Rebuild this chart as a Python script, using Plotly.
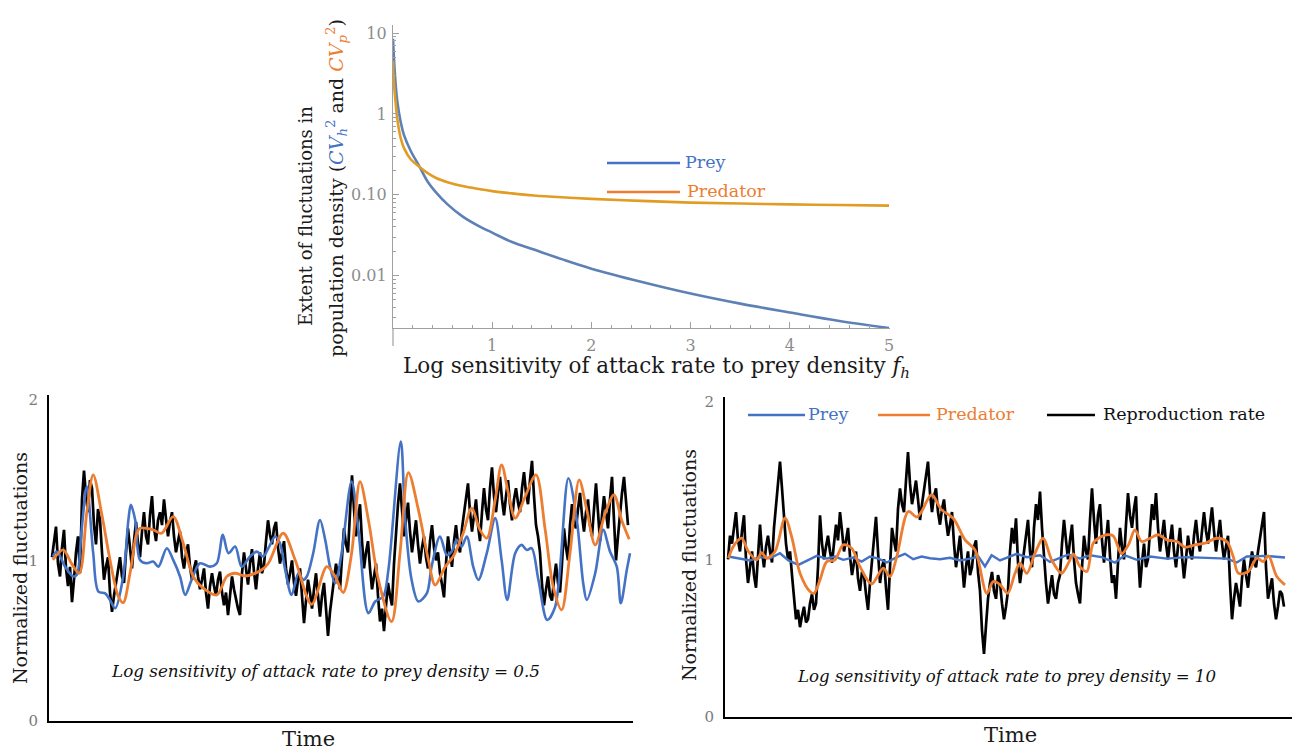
import plotly.graph_objects as go

W, H = 1295, 751

# ---------------- top panel data ----------------
f_h = [0, 0.01, 0.027, 0.044, 0.078, 0.11, 0.178, 0.27, 0.35, 0.44, 0.55, 0.7,
       0.88, 1.0, 1.2, 1.42, 1.7, 2.0, 2.5, 3.0, 3.5, 4.0, 4.5, 5.0]
cv_prey = [8.5, 4.8, 2.3, 1.41, 0.79, 0.55, 0.35, 0.22, 0.145, 0.105, 0.076, 0.054,
           0.040, 0.034, 0.026, 0.021, 0.016, 0.0122, 0.0084, 0.0060, 0.0045, 0.0035, 0.00275, 0.00225]
cv_pred = [4.5, 2.4, 1.35, 0.85, 0.50, 0.38, 0.275, 0.22, 0.185, 0.16, 0.143, 0.128,
           0.117, 0.111, 0.104, 0.098, 0.093, 0.089, 0.084, 0.080, 0.078, 0.076, 0.0748, 0.0735]

# ---------------- bottom-left panel data (log sensitivity = 0.5) ----------------
black_left = [
    1.02, 1.12, 1.21, 0.98, 0.90, 1.08, 1.19, 0.95, 0.84, 0.96,
    0.74, 0.88, 1.05, 1.15, 0.92, 1.38, 1.56, 1.40, 1.30, 1.50,
    1.45, 1.22, 1.10, 1.32, 1.25, 1.05, 0.88, 0.96, 1.02, 0.80,
    0.68, 0.78, 0.86, 0.95, 1.02, 0.90, 0.86, 1.05, 1.20, 1.08,
    0.95, 1.12, 1.24, 1.10, 1.02, 1.18, 1.30, 1.15, 1.10, 1.28,
    1.40, 1.20, 1.12, 1.25, 1.30, 1.22, 1.38, 1.26, 1.15, 1.24,
    1.30, 1.15, 1.05, 1.12, 1.18, 1.02, 0.95, 1.04, 1.10, 0.96,
    0.88, 0.95, 1.00, 0.90, 0.82, 0.88, 0.95, 0.80, 0.70, 0.84,
    0.92, 0.84, 0.78, 0.88, 0.93, 0.80, 0.72, 0.80, 0.66, 0.78,
    0.90, 0.82, 0.75, 0.70,
    0.66, 0.92, 1.05, 0.95, 0.85, 0.98, 1.07, 0.93, 0.82, 0.95,
    1.05, 0.92, 0.97, 1.12, 1.25, 1.16, 1.10, 1.20, 1.24, 1.08,
    0.98, 1.05, 1.12, 0.95, 0.85, 0.92, 1.00, 0.86, 0.78, 0.88,
    0.95, 0.78, 0.61, 0.75, 0.88, 0.80, 0.70, 0.82, 0.92, 0.78,
    0.65, 0.78, 0.86, 0.70, 0.53, 0.68, 0.80, 0.88, 0.98, 0.90,
    0.82, 1.02, 1.20, 1.10, 1.05, 1.30, 1.53, 1.32, 1.15, 1.26,
    1.35, 1.12, 0.95, 1.05, 1.12, 0.95, 0.82, 0.90, 0.98, 0.78,
    0.62, 0.70, 0.56, 0.72, 0.86, 0.78, 0.72, 0.98, 1.20, 1.35,
    1.48, 1.28, 1.15, 1.25, 1.36, 1.18, 1.05, 1.15, 1.25, 1.10,
    0.98, 1.08, 1.15, 1.02, 0.95, 1.12, 1.22, 1.08, 1.00, 1.05,
    0.92, 0.85, 0.77, 0.98, 1.15, 1.05, 0.96, 1.12, 1.22, 1.10,
    1.05, 1.20, 1.30, 1.38, 1.48, 1.30, 1.18, 1.28, 1.38, 1.22,
    1.12, 1.30, 1.45, 1.32, 1.25, 1.45, 1.58, 1.40, 1.30, 1.42,
    1.52, 1.38, 1.28, 1.40, 1.50, 1.35, 1.25, 1.38, 1.45, 1.36,
    1.30, 1.45, 1.55, 1.42, 1.35, 1.50, 1.62, 1.40, 1.22, 1.15,
    1.05, 0.85, 0.72, 0.82, 0.90, 0.78, 0.75, 0.88, 0.98, 0.86,
    0.80, 0.98, 1.20, 1.08, 1.00, 1.22, 1.35, 1.24, 1.20, 1.32,
    1.42, 1.28, 1.18, 1.30, 1.38, 1.22, 1.15, 1.32, 1.48, 1.30,
    1.12, 1.28, 1.40, 1.30, 1.20, 1.38, 1.52, 1.25, 1.00, 1.15,
    1.30, 1.42, 1.52, 1.35, 1.22]
time_black_left = [k / 2 for k in range(len(black_left))]

time_pred_left = [0.2, 2.8, 4.9, 6.8, 8.7, 10.3, 12.4, 14.5, 16.6, 17.8, 19.5, 21.2, 22.0,
                  25.3, 27.4, 30.3, 32.8, 35.3, 37.8, 41.2, 43.7, 45.8, 48.3, 52.4, 54.1,
                  57.8, 60.8, 64.9, 68.7, 70.8, 72.8, 74.9, 77.0, 79.1, 81.6, 84.9, 87.0,
                  89.1, 91.6, 94.1, 95.8, 98.3, 100.3, 102.8, 104.9, 107.0, 108.7, 110.8,
                  112.4, 114.1, 115.8, 118.3, 121.0, 123.3, 125.3, 127.4, 129.5, 131.8,
                  133.7, 135.8, 138.3, 140.5, 142.4, 144.3]
pred_left = [1.003, 1.065, 0.98, 0.92, 1.30, 1.533, 1.294, 1.003, 0.775, 0.737, 0.92, 1.17, 1.20,
             1.19, 1.169, 1.273, 1.107, 0.90, 0.827, 0.785, 0.90, 0.92, 0.903, 0.94, 0.982,
             1.169, 1.003, 0.727, 0.961, 0.899, 0.80, 1.045, 1.491, 1.252, 0.879, 0.619, 1.045,
             1.547, 1.315, 1.003, 0.847, 0.961, 1.024, 1.169, 1.325, 1.19, 1.138, 1.377,
             1.595, 1.418, 1.263, 1.398, 1.533, 1.19, 0.837, 0.692, 1.045, 1.502,
             1.315, 1.097, 1.294, 1.408, 1.252, 1.132]

time_prey_left = [0.2, 1.2, 3.3, 5.3, 6.2, 7.4, 8.7, 10.3, 11.6, 13.3, 14.5, 15.8, 17.8, 19.1,
                  19.7, 20.8, 22.0, 23.7, 25.3, 26.6, 28.7, 30.3, 32.0, 33.3, 34.9, 37.0,
                  39.5, 41.2, 42.7, 44.1, 45.8, 47.4, 49.5, 51.2, 52.8, 54.1, 55.8, 57.0,
                  58.3, 59.9, 61.6, 62.8, 63.7, 65.3, 67.0, 68.3, 69.5, 70.8, 72.4, 74.9,
                  76.6, 79.1, 80.8, 82.8, 84.1, 87.2, 88.3, 89.9, 91.6, 93.7, 94.9, 97.0,
                  98.7, 99.9, 101.2, 102.4, 103.7, 105.3, 106.6, 108.7, 110.8, 112.4, 113.8,
                  115.8, 117.4, 118.7, 119.9, 121.6, 123.8, 125.8, 129.1, 131.2, 132.8,
                  133.7, 135.8, 137.8, 139.5, 141.2, 142.2, 143.7, 144.5]
prey_left = [1.024, 1.055, 0.96, 0.90, 0.91, 1.19, 1.46, 1.045, 0.806, 0.795, 0.754, 0.702,
             0.90, 1.252, 1.346, 1.252, 1.003, 0.982, 0.993, 0.961, 1.076, 1.003, 0.90, 0.785,
             0.879, 0.982, 0.961, 0.982, 1.159, 1.045, 1.086, 0.961, 1.024, 1.055, 1.024,
             1.076, 1.149, 1.107, 0.941, 0.785, 0.92, 0.879, 0.90, 1.045, 1.252, 1.128,
             0.961, 0.858, 1.045, 1.491, 1.19, 0.671, 0.744, 0.775, 0.941, 1.74, 1.252,
             0.879, 0.744, 0.795, 0.961, 1.149, 1.034, 1.055, 1.128, 1.086, 1.149, 0.961,
             0.879, 1.045, 1.263, 1.003, 0.754, 1.045, 1.097, 1.065, 1.076, 0.879, 0.629,
             0.712, 1.512, 1.252, 0.858, 0.754, 0.92, 1.19, 1.055, 0.961, 0.733, 0.941, 1.045]

# ---------------- bottom-right panel data (log sensitivity = 10) ----------------
black_right = [
    1.00, 1.15, 1.10, 1.22, 1.30, 1.12, 1.05, 1.18, 1.28, 1.00,
    0.85, 0.95, 1.05, 0.90, 0.82, 1.02, 1.22, 1.05, 0.95, 1.08,
    1.15, 1.05, 0.98, 1.20, 1.35, 1.50, 1.62, 1.45, 1.25, 1.10,
    1.00, 1.05, 0.90, 0.75, 0.62, 0.68, 0.57, 0.64, 0.70, 0.60,
    0.62, 0.72, 0.78, 0.68, 0.72, 0.95, 1.28, 1.10, 1.00, 1.08,
    1.15, 1.05, 0.98, 1.10, 1.22, 1.12, 1.30, 1.18, 1.05, 1.12,
    1.20, 1.02, 0.90, 0.98, 1.05, 0.88, 0.80, 0.92, 0.90, 0.78,
    0.68, 0.85, 0.98, 1.12, 1.27, 1.05, 0.85, 0.95, 1.00, 0.82,
    0.68, 0.95, 1.20, 1.12, 1.05, 1.32, 1.45, 1.35, 1.30, 1.50,
    1.68, 1.48, 1.35, 1.42, 1.50, 1.38, 1.25, 1.35, 1.45, 1.52,
    1.62, 1.42, 1.30, 1.40, 1.45, 1.30, 1.22, 1.32, 1.38, 1.25,
    1.15, 1.22, 1.30, 1.10, 0.95, 1.05, 1.15, 0.98, 0.82, 0.95,
    1.05, 0.90, 0.95, 1.08, 1.12, 0.92, 0.80, 0.55, 0.40, 0.58,
    0.75, 0.85, 0.92, 0.80, 0.75, 0.90, 0.85, 0.72, 0.62, 0.70,
    0.80, 1.05, 1.20, 1.10, 1.26, 0.98, 0.85, 0.95, 1.05, 1.15,
    1.25, 1.05, 0.95, 1.20, 1.35, 1.25, 1.43, 1.20, 1.00, 0.85,
    0.72, 0.80, 0.90, 0.78, 0.75, 0.85, 0.90, 1.10, 1.25, 1.12,
    1.00, 1.12, 1.22, 1.00, 0.85, 0.78, 0.72, 0.95, 1.15, 1.05,
    1.00, 1.25, 1.45, 1.25, 1.10, 1.28, 1.35, 1.12, 0.98, 1.12,
    1.25, 1.02, 0.85, 0.90, 0.75, 0.98, 1.20, 1.08, 1.00, 1.22,
    1.42, 1.28, 1.20, 1.32, 1.40, 1.05, 0.82, 0.98, 1.10, 0.95,
    1.00, 1.18, 1.35, 1.25, 1.42, 1.20, 1.05, 1.15, 1.25, 1.10,
    1.00, 1.12, 1.22, 1.05, 0.95, 1.08, 1.20, 1.02, 0.88, 1.00,
    1.15, 1.05, 1.00, 1.15, 1.25, 1.12, 1.05, 1.18, 1.30, 1.18,
    1.10, 1.22, 1.33, 1.18, 1.05, 1.15, 1.25, 1.10, 1.00, 1.08,
    1.15, 0.85, 0.62, 0.75, 0.85, 0.78, 0.70, 0.88, 1.00, 0.90,
    0.82, 0.95, 1.05, 0.98, 0.95, 1.05, 1.15, 1.22, 1.30, 0.95,
    0.75, 0.82, 0.88, 0.72, 0.62, 0.70, 0.80, 0.78, 0.70]
time_black_right = [k / 2 for k in range(len(black_right))]

time_pred_right = [0.1, 1.3, 3.4, 5.1, 7.2, 8.4, 9.7, 11.75, 14.25, 15.9, 18.0, 20.5, 21.5,
                   23.0, 24.7, 26.75, 28.8, 30.9, 33.0, 35.9, 38.8, 40.5, 42.2, 45.1, 47.2,
                   48.4, 50.9, 53.4, 56.3, 59.25, 61.75, 64.7, 66.3, 68.0, 69.9, 71.75, 73.0,
                   74.7, 76.75, 78.8, 80.9, 83.4, 85.1, 86.3, 88.0, 89.7, 91.3, 93.4, 94.7,
                   96.3, 98.4, 100.1, 101.75, 103.4, 105.5, 107.6, 109.7, 112.2, 114.25,
                   116.75, 119.25, 122.2, 124.7, 126.3, 127.6, 130.1, 132.2, 133.8, 135.1,
                   137.2, 139.25]
pred_right = [1.007, 1.081, 1.134, 1.05, 0.997, 1.043, 1.007, 1.05, 1.261, 1.145, 0.912, 0.796,
              0.785, 0.87, 0.986, 0.997, 1.092, 1.071, 0.954, 0.844, 0.944, 0.891, 1.018, 1.304,
              1.268, 1.304, 1.41, 1.314, 1.261, 1.124, 1.06, 0.785, 0.859, 0.84, 0.785, 0.912,
              0.976, 0.912, 1.039, 1.134, 0.997, 0.912, 0.976, 1.035, 0.954, 0.923, 1.103,
              1.145, 1.156, 1.149, 1.035, 1.092, 1.187, 1.113, 1.134, 1.156, 1.124, 1.113,
              1.077, 1.092, 1.103, 1.134, 1.113, 1.018, 0.912, 0.923, 1.007, 0.986, 1.022,
              0.891, 0.838]

time_prey_right = [0.1, 2.6, 5.5, 8.0, 10.5, 13.0, 15.1, 17.6, 19.7, 22.2, 24.7, 26.75, 28.8,
                   31.3, 33.4, 35.5, 37.6, 39.7, 42.2, 44.25, 46.3, 48.4, 50.5, 53.0, 55.5,
                   58.0, 60.5, 62.6, 64.25, 65.9, 68.0, 69.7, 72.2, 74.7, 78.0, 80.5, 83.0,
                   85.1, 88.0, 90.5, 93.4, 96.75, 99.25, 102.2, 105.5, 109.7, 114.7, 119.7,
                   124.7, 127.2, 129.7, 134.7, 139.25]
prey_right = [1.018, 1.007, 0.993, 1.014, 1.007, 1.039, 0.993, 0.965, 0.993, 1.022, 1.005,
              1.018, 0.997, 1.012, 0.986, 1.018, 1.005, 0.98, 1.014, 1.035, 1.001, 1.018,
              1.007, 1.001, 1.01, 0.993, 1.005, 1.018, 0.955, 1.026, 0.993, 1.01, 1.035,
              1.014, 1.026, 0.984, 1.007, 1.031, 1.005, 1.026, 1.014, 0.98, 1.026, 0.997,
              1.018, 1.005, 1.014, 1.01, 1.005, 0.98, 1.018, 1.022, 1.012]

# ---------------- styling ----------------
SERIF = "DejaVu Serif"
BLUE = "#4472C4"
ORANGE = "#ED7D31"
M_BLUE = "#5E81B5"
M_GOLD = "#E19C24"
AX_GRAY = "#a0a0a0"


def px(x):
    return x / W


def py(y):
    return 1 - y / H


fig = go.Figure()

# top panel
fig.add_trace(go.Scatter(x=f_h, y=cv_prey, xaxis="x", yaxis="y", mode="lines",
                         line=dict(color=M_BLUE, width=2.6, shape="spline", smoothing=1.0),
                         showlegend=False, name="Prey"))
fig.add_trace(go.Scatter(x=f_h, y=cv_pred, xaxis="x", yaxis="y", mode="lines",
                         line=dict(color=M_GOLD, width=2.6, shape="spline", smoothing=1.0),
                         showlegend=False, name="Predator"))

# bottom left
fig.add_trace(go.Scatter(x=time_black_left, y=black_left, xaxis="x2", yaxis="y2", mode="lines",
                         line=dict(color="#000000", width=2.7), showlegend=False,
                         name="Reproduction rate"))
fig.add_trace(go.Scatter(x=time_prey_left, y=prey_left, xaxis="x2", yaxis="y2", mode="lines",
                         line=dict(color=BLUE, width=2.6, shape="spline", smoothing=0.9),
                         showlegend=False, name="Prey"))
fig.add_trace(go.Scatter(x=time_pred_left, y=pred_left, xaxis="x2", yaxis="y2", mode="lines",
                         line=dict(color=ORANGE, width=2.8, shape="spline", smoothing=0.9),
                         showlegend=False, name="Predator"))

# bottom right
fig.add_trace(go.Scatter(x=time_black_right, y=black_right, xaxis="x3", yaxis="y3", mode="lines",
                         line=dict(color="#000000", width=2.7), showlegend=False,
                         name="Reproduction rate"))
fig.add_trace(go.Scatter(x=time_prey_right, y=prey_right, xaxis="x3", yaxis="y3", mode="lines",
                         line=dict(color=BLUE, width=2.4), showlegend=False, name="Prey"))
fig.add_trace(go.Scatter(x=time_pred_right, y=pred_right, xaxis="x3", yaxis="y3", mode="lines",
                         line=dict(color=ORANGE, width=2.8, shape="spline", smoothing=0.9),
                         showlegend=False, name="Predator"))

minor_y = [m * 10 ** e for e in (-3, -2, -1, 0) for m in range(2, 10)]
minor_x = [0.2, 0.4, 0.6, 0.8, 1.2, 1.4, 1.6, 1.8, 2.2, 2.4, 2.6, 2.8,
           3.2, 3.4, 3.6, 3.8, 4.2, 4.4, 4.6, 4.8]

tickfont_top = dict(family=SERIF, size=16, color="#8c8c8c")
tickfont_bot = dict(family=SERIF, size=15, color="#7a7a7a")

fig.update_layout(
    width=W, height=H,
    margin=dict(l=0, r=0, t=0, b=0),
    paper_bgcolor="white", plot_bgcolor="white",
    font=dict(family=SERIF, color="#222"),
    xaxis=dict(domain=[px(393), px(890)], range=[0, 5.01], anchor="y",
               showline=True, linecolor=AX_GRAY, linewidth=1.2,
               ticks="inside", ticklen=6, tickwidth=1, tickcolor=AX_GRAY,
               tickvals=[1, 2, 3, 4, 5], ticktext=["1", "2", "3", "4", "5"],
               tickfont=tickfont_top, ticklabelstandoff=3,
               minor=dict(ticks="inside", ticklen=3, tickcolor=AX_GRAY, tickvals=minor_x),
               showgrid=False, zeroline=False, automargin=False),
    yaxis=dict(domain=[py(328), py(25)], type="log", range=[-2.648, 1.10], anchor="x",
               showline=True, linecolor=AX_GRAY, linewidth=1.2,
               ticks="inside", ticklen=6, tickwidth=1, tickcolor=AX_GRAY,
               tickvals=[0.01, 0.1, 1, 10], ticktext=["0.01", "0.10", "1", "10"],
               tickfont=tickfont_top, ticklabelstandoff=2,
               minor=dict(ticks="inside", ticklen=3, tickcolor=AX_GRAY, tickvals=minor_y),
               showgrid=False, zeroline=False, automargin=False),
    xaxis2=dict(domain=[px(49), px(633)], range=[-0.75, 145.25], anchor="y2",
                showline=True, linecolor="#000", linewidth=2, ticks="", showticklabels=False,
                showgrid=False, zeroline=False, automargin=False),
    yaxis2=dict(domain=[py(721), py(395)], range=[0, 2.03], anchor="x2",
                showline=True, linecolor="#000", linewidth=2, ticks="",
                tickvals=[0, 1, 2], ticktext=["0", "1", "2"], tickfont=tickfont_bot,
                ticklabelstandoff=6, showgrid=False, zeroline=False, automargin=False),
    xaxis3=dict(domain=[px(725), px(1292)], range=[-0.75, 141], anchor="y3",
                showline=True, linecolor="#000", linewidth=2, ticks="", showticklabels=False,
                showgrid=False, zeroline=False, automargin=False),
    yaxis3=dict(domain=[py(717), py(397)], range=[0, 2.03], anchor="x3",
                showline=True, linecolor="#000", linewidth=2, ticks="",
                tickvals=[0, 1, 2], ticktext=["0", "1", "2"], tickfont=tickfont_bot,
                ticklabelstandoff=6, showgrid=False, zeroline=False, automargin=False),
)

shapes = [
    # y axis of top panel continues below the x axis
    dict(type="line", xref="paper", yref="paper", x0=px(393), x1=px(393), y0=py(346), y1=py(328),
         line=dict(color=AX_GRAY, width=1.2)),
    # top legend
    dict(type="line", xref="paper", yref="paper", x0=px(607), x1=px(680), y0=py(163), y1=py(163),
         line=dict(color=BLUE, width=2.6)),
    dict(type="line", xref="paper", yref="paper", x0=px(607), x1=px(680), y0=py(192), y1=py(192),
         line=dict(color=ORANGE, width=2.6)),
    # bottom-right legend
    dict(type="line", xref="paper", yref="paper", x0=px(748), x1=px(805), y0=py(415), y1=py(415),
         line=dict(color=BLUE, width=2.6)),
    dict(type="line", xref="paper", yref="paper", x0=px(878), x1=px(930), y0=py(415), y1=py(415),
         line=dict(color=ORANGE, width=2.6)),
    dict(type="line", xref="paper", yref="paper", x0=px(1047), x1=px(1095), y0=py(415), y1=py(415),
         line=dict(color="#000", width=2.6)),
]
fig.update_layout(shapes=shapes)

cv_h = "<i>CV</i><sub><i>h</i></sub><sup>2</sup>"
cv_p = "<i>CV</i><sub><i>p</i></sub><sup>2</sup>"

ann = [
    dict(text="Log sensitivity of attack rate to prey density <i>f</i><sub><i>h</i></sub>",
         x=px(656), y=py(367), font=dict(size=21.5, color="#1a1a1a")),
    dict(text="Extent of fluctuations in", x=px(306), y=py(216), textangle=-90,
         font=dict(size=18, color="#1a1a1a")),
    dict(text=("population density (<span style='color:%s'>%s</span> and "
               "<span style='color:%s'>%s</span>)") % (BLUE, cv_h, ORANGE, cv_p),
         x=px(336), y=py(188), textangle=-90, font=dict(size=19, color="#1a1a1a")),
    dict(text="Normalized fluctuations", x=px(20), y=py(568), textangle=-90,
         font=dict(size=19, color="#1a1a1a")),
    dict(text="Normalized fluctuations", x=px(689), y=py(565), textangle=-90,
         font=dict(size=19, color="#1a1a1a")),
    dict(text="Time", x=px(308), y=py(739), font=dict(size=21, color="#1a1a1a")),
    dict(text="Time", x=px(1010), y=py(735), font=dict(size=21, color="#1a1a1a")),
    dict(text="<i>Log sensitivity of attack rate to prey density = 0.5</i>",
         x=px(326), y=py(671), font=dict(size=16.8, color="#111")),
    dict(text="<i>Log sensitivity of attack rate to prey density = 10</i>",
         x=px(1007), y=py(676), font=dict(size=16.6, color="#111")),
    dict(text="Prey", x=px(683), y=py(162), xanchor="left", font=dict(size=17.5, color=BLUE)),
    dict(text="Predator", x=px(685), y=py(191), xanchor="left", font=dict(size=17.5, color=ORANGE)),
    dict(text="Prey", x=px(806), y=py(414), xanchor="left", font=dict(size=17.5, color=BLUE)),
    dict(text="Predator", x=px(934), y=py(414), xanchor="left", font=dict(size=17.5, color=ORANGE)),
    dict(text="Reproduction rate", x=px(1101), y=py(414), xanchor="left",
         font=dict(size=17.5, color="#111")),
]
for a in ann:
    a.setdefault("xref", "paper")
    a.setdefault("yref", "paper")
    a.setdefault("showarrow", False)
    a.setdefault("xanchor", "center")
    a.setdefault("yanchor", "middle")
    a["font"].setdefault("family", SERIF)
fig.update_layout(annotations=ann)

fig.write_html("out.html", config={"displayModeBar": False},
               post_script="document.body.style.margin='0px';")
